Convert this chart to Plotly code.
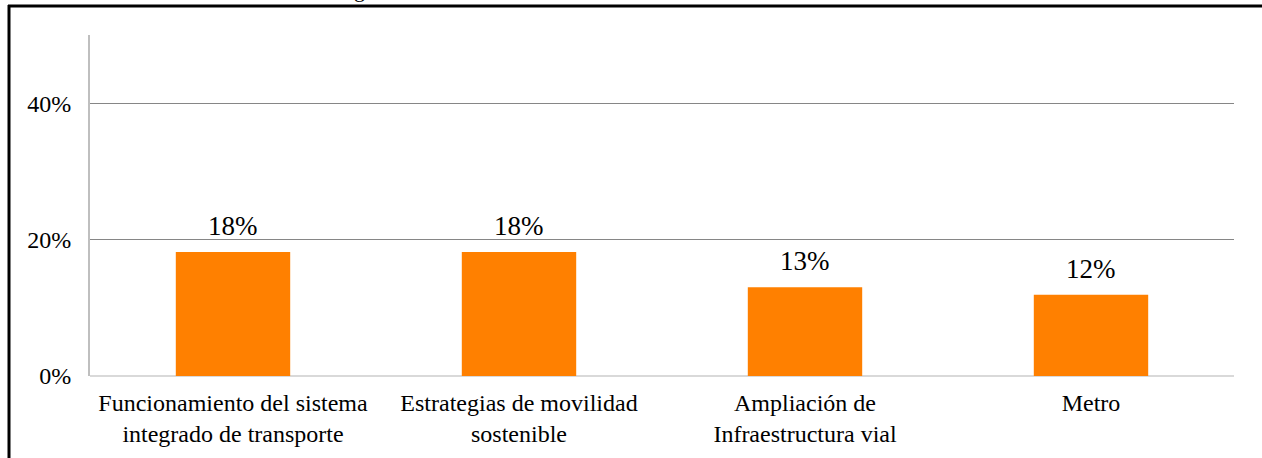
import plotly.graph_objects as go

categories = ["Funcionamiento del sistema<br>integrado de transporte",
              "Estrategias de movilidad<br>sostenible",
              "Ampliación de<br>Infraestructura vial",
              "Metro"]
values = [0.182, 0.182, 0.130, 0.119]
labels = ["18%", "18%", "13%", "12%"]
tick_vals = [0, 0.2, 0.4]
tick_text = ["0%", "20%", "40%"]

SERIF = "Liberation Serif"

W, H = 1262, 458
L, R, T, B = 90, 28, 35, 82
pw, ph = W - L - R, H - T - B

def px_x(p):
    return (p - L) / pw

def px_y(p):
    return (H - B - p) / ph

fig = go.Figure()
fig.add_trace(go.Bar(x=categories, y=values, marker=dict(color="#FF8000", line=dict(width=0)),
                     width=0.4, hoverinfo="skip"))

for c, v, t in zip(categories, values, labels):
    fig.add_annotation(x=c, y=v, text=t, showarrow=False, yanchor="bottom", yshift=9,
                       font=dict(family=SERIF, size=27, color="black"))

# cropped caption letter at top
fig.add_annotation(xref="paper", yref="paper", x=px_x(359), y=px_y(4), text="g", showarrow=False,
                   xanchor="center", yanchor="bottom",
                   font=dict(family=SERIF, size=22, color="black"))

# frame (partially cropped)
fig.add_shape(type="line", xref="paper", yref="paper", x0=px_x(9), x1=px_x(9), y0=px_y(5), y1=px_y(470),
              line=dict(color="#000000", width=3))
fig.add_shape(type="line", xref="paper", yref="paper", x0=px_x(8), x1=px_x(1275), y0=px_y(6), y1=px_y(6),
              line=dict(color="#000000", width=3))

fig.update_layout(
    width=W, height=H,
    margin=dict(l=L, r=R, t=T, b=B, pad=0),
    paper_bgcolor="#ffffff", plot_bgcolor="#ffffff",
    showlegend=False,
    bargap=0.6,
    xaxis=dict(showgrid=False, showline=False, zeroline=False, ticks="",
               tickfont=dict(family=SERIF, size=24, color="black"),
               ticklabelstandoff=10, fixedrange=True),
    yaxis=dict(range=[0, 0.5], tickvals=tick_vals, ticktext=tick_text,
               showgrid=True, gridcolor="#868686", gridwidth=1,
               zeroline=True, zerolinecolor="#d9d9d9", zerolinewidth=2,
               showline=True, linecolor="#bfbfbf", linewidth=2,
               ticks="", tickfont=dict(family=SERIF, size=24, color="black"),
               ticklabelstandoff=12, fixedrange=True),
)

fig.write_html("out.html", config={"displayModeBar": False},
               post_script="document.body.style.margin='0';document.body.style.overflow='hidden';")
